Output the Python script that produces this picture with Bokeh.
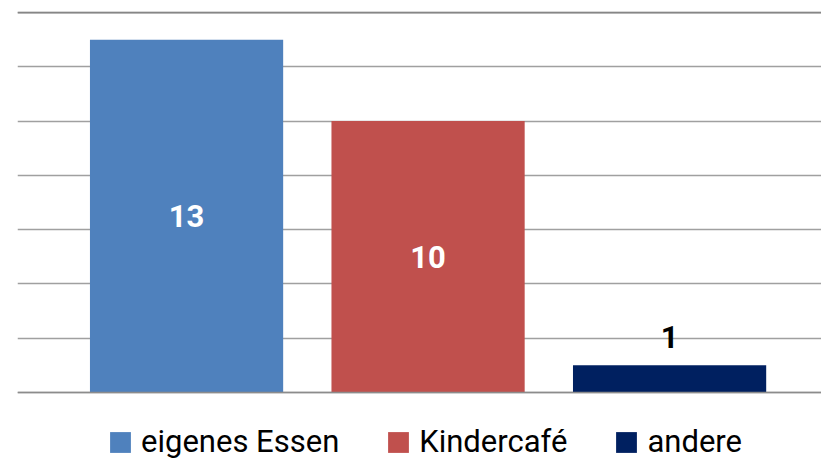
from bokeh.plotting import figure
from bokeh.models import ColumnDataSource, Range1d, FixedTicker, LabelSet, Legend, LegendItem, Span
from bokeh.core.properties import value
from bokeh.embed import file_html
from bokeh.resources import INLINE

categories = ["eigenes Essen", "Kindercafé", "andere"]
values = [13, 10, 1]
colors = ["#4F81BD", "#C0504D", "#002060"]
label_colors = ["white", "white", "black"]
grid_ticks = [0, 2, 4, 6, 8, 10, 12, 14]

FONT = "Roboto"

xs = list(range(len(categories)))
inside = [v >= 5 for v in values]
label_y = [v / 2 if ins else v for v, ins in zip(values, inside)]
label_off = [0 if ins else 28 for ins in inside]

# frame covers the plot and the legend strip below the baseline
p = figure(frame_width=804, frame_height=449, output_backend="svg", toolbar_location=None,
           x_range=Range1d(-0.70, 2.629), y_range=Range1d(-2.505, 14.037),
           min_border_left=17, min_border_right=0, min_border_top=11, min_border_bottom=0)
p.outline_line_color = None
p.xaxis.visible = False
p.yaxis.visible = False
p.xgrid.visible = False
p.ygrid.ticker = FixedTicker(ticks=grid_ticks)
p.ygrid.grid_line_color = "#a0a0a0"
p.ygrid.grid_line_width = 1.6

top = Span(location=grid_ticks[-1], dimension="width", line_color="#868686", line_width=2)
p.add_layout(top)

renderers = []
for i in range(len(categories)):
    r = p.vbar(x=[xs[i]], top=[values[i]], width=0.8, color=colors[i], line_color=None)
    renderers.append(r)

base = Span(location=0, dimension="width", line_color="#8c8c8c", line_width=1.6)
p.add_layout(base)

for i in range(len(categories)):
    s = ColumnDataSource(dict(x=[xs[i]], y=[label_y[i]], t=[str(values[i])]))
    lab = LabelSet(x="x", y="y", text="t", source=s, y_offset=label_off[i],
                   text_align="center", text_baseline="middle",
                   text_font=value(FONT), text_font_style="bold", text_font_size="31px",
                   text_color=label_colors[i])
    p.add_layout(lab)

legend = Legend(items=[LegendItem(label=c, renderers=[r]) for c, r in zip(categories, renderers)],
                orientation="horizontal", location=(90, 0),
                glyph_width=26, glyph_height=26, label_standoff=8, spacing=46,
                padding=0, margin=0, border_line_color=None, background_fill_alpha=0,
                label_text_font=FONT, label_text_font_size="31px", label_text_color="black")
p.add_layout(legend, "center")

open("out.html", "w").write(file_html(p, INLINE))
